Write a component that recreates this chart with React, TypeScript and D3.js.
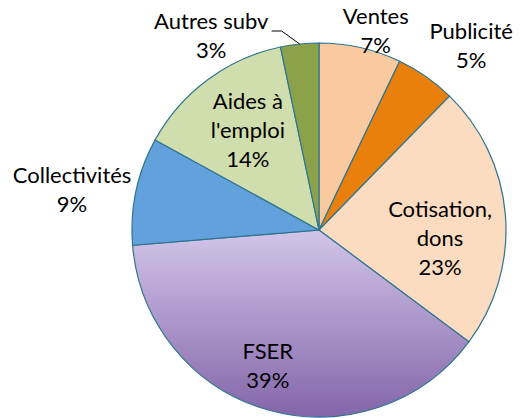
import * as d3 from 'd3';

// categories in clockwise order from 12 o'clock
const categories = ['Ventes', 'Publicité', 'Cotisation, dons', 'FSER', 'Collectivités', "Aides à l'emploi", 'Autres subv'];
const shares = [7.1, 5.2, 22.9, 38.5, 9.3, 13.7, 3.3];
// how each label is broken into lines
const labelLines = [['Ventes'], ['Publicité'], ['Cotisation,', 'dons'], ['FSER'], ['Collectivités'], ['Aides à', "l'emploi"], ['Autres subv']];

const W = 523;
const H = 418;
const cx = 319;
const cy = 230;
const R = 187;
const fontSize = 22;
const lineH = 29;

const fills = ['#f9c9a0', '#e8800b', '#fcdcc1', 'url(#fser-grad)', '#62a1dc', '#d0ddad', '#8ba24b'];

// label placement: radius factor and angle nudge (deg) from slice mid angle
const labelPos = [
  { r: 1.11, da: 3.1 },
  { r: 1.276, da: 4.7 },
  { r: 0.649, da: 8.3 },
  { r: 0.777, da: 4.6 },
  { r: 1.338, da: -2.8 },
  { r: 0.656, da: 1.1 },
  { r: 1.187, da: -23.1 },
];

type Slice = { name: string; value: number; i: number };

export default function App() {
  const data: Slice[] = categories.map((name, i) => ({ name, value: shares[i], i }));
  const pie = d3.pie<Slice>().value(d => d.value).sort(null);
  const arcs = pie(data);
  const arc = d3.arc<d3.PieArcDatum<Slice>>().innerRadius(0).outerRadius(R);

  const polar = (a: number, d: number): [number, number] => [Math.sin(a) * d, -Math.cos(a) * d];

  return (
    <svg width={W} height={H} style={{ position: 'absolute', left: 0, top: 0, fontFamily: 'Lato, sans-serif' }}>
      <defs>
        <linearGradient id="fser-grad" x1="0" y1="0" x2="0" y2="1">
          <stop offset="0%" stopColor="#d2c5e9" />
          <stop offset="100%" stopColor="#8365a9" />
        </linearGradient>
      </defs>
      <rect width={W} height={H} fill="#fff" />
      <g transform={`translate(${cx},${cy})`}>
        {arcs.map(a => (
          <path key={a.data.name} d={arc(a) || ''} fill={fills[a.data.i]} stroke="#2f7590" strokeWidth={1.2} />
        ))}
        {arcs.map(a => {
          const i = a.data.i;
          const mid = (a.startAngle + a.endAngle) / 2;
          const p = labelPos[i];
          const [x, y] = polar(mid + (p.da * Math.PI) / 180, p.r * R);
          const lines = [...labelLines[i], `${Math.round(a.data.value)}%`];
          const y0 = y - ((lines.length - 1) * lineH) / 2 + fontSize * 0.35;
          let leader = null;
          if (a.data.name === 'Autres subv') {
            const [ex, ey] = polar(mid, R);
            leader = (
              <polyline
                points={`${ex - 28},${ey - 13} ${ex - 18},${ey - 13} ${ex},${ey}`}
                fill="none"
                stroke="#000"
                strokeWidth={1}
              />
            );
          }
          return (
            <g key={'l' + a.data.name}>
              {leader}
              <text textAnchor="middle" fontSize={fontSize} fill="#000">
                {lines.map((t, k) => (
                  <tspan key={k} x={x} y={y0 + k * lineH}>
                    {t}
                  </tspan>
                ))}
              </text>
            </g>
          );
        })}
      </g>
    </svg>
  );
}
